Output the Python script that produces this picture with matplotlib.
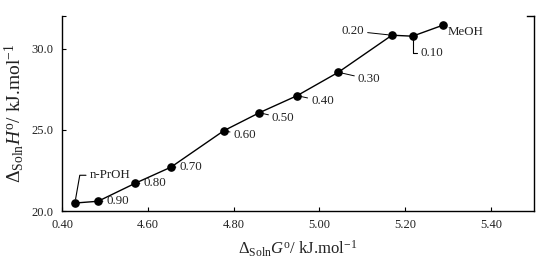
import matplotlib
matplotlib.use('Agg')
from matplotlib import pyplot as plt

plt.rcParams['font.family'] = ['Liberation Serif', 'DejaVu Serif']
plt.rcParams['mathtext.fontset'] = 'custom'
plt.rcParams['mathtext.rm'] = 'Liberation Serif'
plt.rcParams['mathtext.it'] = 'Liberation Serif:italic'

# data
dG = [4.430, 4.484, 4.570, 4.654, 4.777, 4.860, 4.948, 5.044, 5.169, 5.217, 5.288]
dH = [20.49, 20.60, 21.70, 22.70, 24.94, 26.05, 27.10, 28.54, 30.82, 30.76, 31.44]
labels = ['n-PrOH', '0.90', '0.80', '0.70', '0.60', '0.50', '0.40', '0.30', '0.20', '0.10', 'MeOH']
xticks = [4.40, 4.60, 4.80, 5.00, 5.20, 5.40]
yticks = [20.0, 25.0, 30.0]

# text offsets in points, and leader style
offsets = [(11, 20), (6, 0), (6, 0), (6, 0), (7, -3), (9, -4), (10, -4), (14, -5), (-20, 3), (6, -12), (3, -5)]
ha = ['left'] * 8 + ['right', 'left', 'left']
leader = ['angleA', 'line', 'line', 'line', 'line', 'line', 'line', 'line', 'line', 'angleB', None]

fig = plt.figure(figsize=(5.42, 2.63), dpi=100)
ax = fig.add_axes([0.1144, 0.1977, 0.8708, 0.7413])

ax.plot(dG, dH, '-', color='black', lw=1.0, marker='o', ms=5.2, mfc='black', mec='black')

txtc = '#222222'
for i in range(len(dG)):
    dx, dy = offsets[i]
    ap = None
    if leader[i] == 'line':
        ap = dict(arrowstyle='-', color='black', lw=0.7, shrinkA=0.5, shrinkB=3)
    elif leader[i] == 'angleA':
        ap = dict(arrowstyle='-', color='black', lw=0.8, shrinkA=1, shrinkB=3,
                  connectionstyle='angle,angleA=0,angleB=80,rad=0')
    elif leader[i] == 'angleB':
        ap = dict(arrowstyle='-', color='black', lw=0.8, shrinkA=1, shrinkB=3,
                  connectionstyle='angle,angleA=0,angleB=90,rad=0')
    ax.annotate(labels[i], xy=(dG[i], dH[i]), xytext=(dx, dy), textcoords='offset points',
                ha=ha[i], va='center', fontsize=9.3, color=txtc, arrowprops=ap)

ax.set_xlim(4.40, 5.50)
ax.set_ylim(20.0, 32.0)
ax.set_xticks(xticks)
ax.set_xticklabels(['0.40'] + ['%.2f' % v for v in xticks[1:]])
ax.set_yticks(yticks + [32.0])
ax.set_yticklabels(['%.1f' % v for v in yticks] + [''])
ax.tick_params(direction='in', length=3, width=0.8, labelsize=9, labelcolor=txtc, pad=6)
ax.tick_params(axis='y', right=False)
ax.spines['top'].set_visible(False)
for s in ['left', 'bottom', 'right']:
    ax.spines[s].set_linewidth(1.0)
ax.plot([1.0, 0.985], [1.0, 1.0], color='black', lw=1.0, transform=ax.transAxes, clip_on=False)

ax.set_xlabel(r'$\Delta_{\rm Soln}\mathit{G}^{\rm o}$/ kJ.mol$^{-1}$', fontsize=12, color=txtc, labelpad=5)
ax.set_ylabel(r'$\Delta_{\rm Soln}\mathit{H}^{\rm o}$/ kJ.mol$^{-1}$', fontsize=14, color=txtc, labelpad=4)

fig.savefig('out.png', dpi=100)
